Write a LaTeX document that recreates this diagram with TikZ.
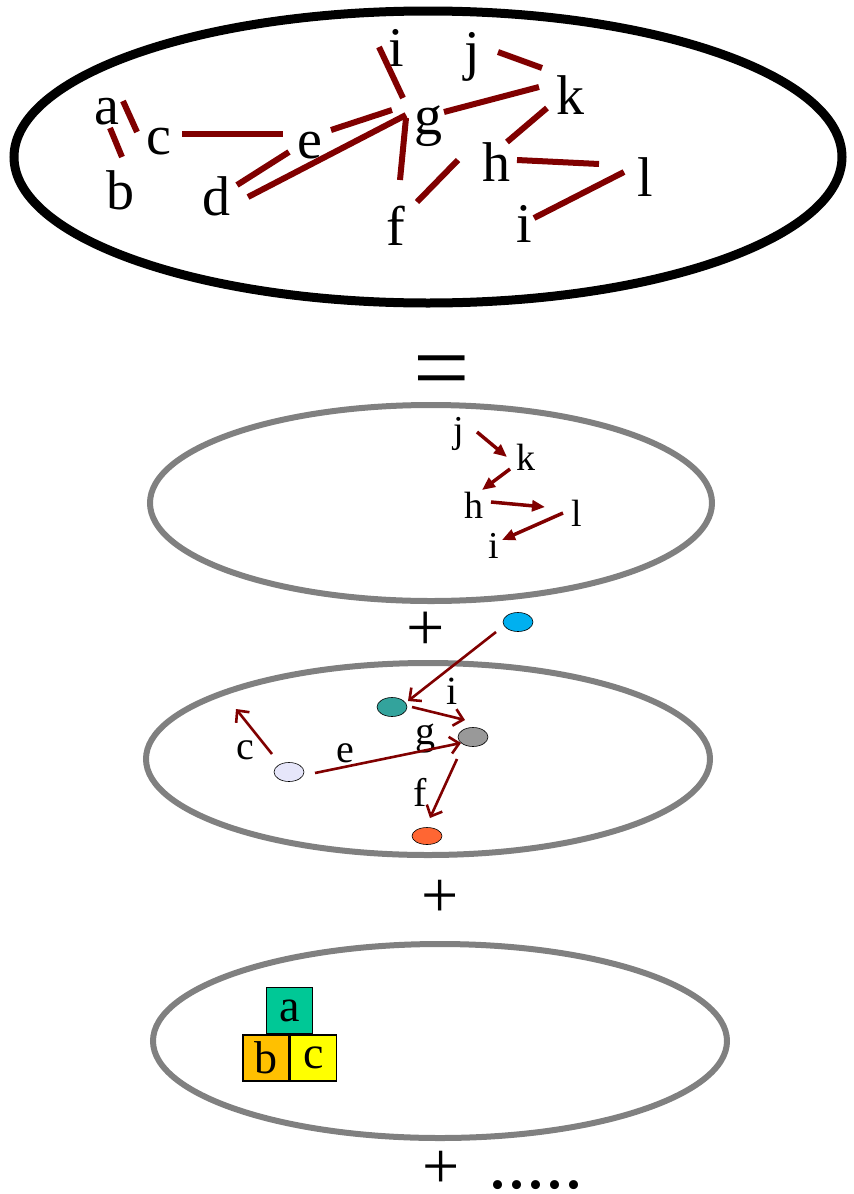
\documentclass[tikz,border=0pt]{standalone}
\usepackage{fontspec}
\setmainfont{Liberation Serif}
\usetikzlibrary{arrows.meta,positioning,calc,shapes.geometric}
\definecolor{linkred}{HTML}{800000}
\definecolor{ringgray}{HTML}{808080}
\definecolor{dotblue}{HTML}{00B0F0}
\definecolor{dotteal}{HTML}{33A39C}
\definecolor{dotgray}{HTML}{999999}
\definecolor{dotlav}{HTML}{E6E6FA}
\definecolor{dotorange}{HTML}{FF6633}
\definecolor{blkgreen}{HTML}{00C896}
\definecolor{blkamber}{HTML}{FFC000}
\definecolor{blkyellow}{HTML}{FFFF00}
\tikzset{
  biglbl/.style={inner sep=0pt,font=\fontsize{56}{60}\selectfont},
  midlbl/.style={inner sep=0pt,font=\fontsize{38}{40}\selectfont},
  smllbl/.style={inner sep=0pt,font=\fontsize{40}{42}\selectfont},
  link/.style={draw=linkred,line width=6pt},
  flow/.style={draw=linkred,line width=3.5pt,-{Triangle[length=13pt,width=11pt]}},
  hop/.style={draw=linkred,line width=2.6pt,-{Straight Barb[length=9pt,width=17pt]}},
  blob/.style={ellipse,draw=black,line width=0.6pt,minimum width=30pt,minimum height=19pt,inner sep=0pt},
  blk/.style={draw=black,line width=1.4pt,minimum size=46pt,inner sep=0pt,font=\fontsize{46}{48}\selectfont},
  ring/.style={draw=ringgray,line width=6pt}
}
\begin{document}
\begin{tikzpicture}[x=1pt,y=-1pt]
  \path[use as bounding box] (0,0) rectangle (854,1194);

  % whole structure
  \draw[line width=9pt] (428,157) ellipse [x radius=414, y radius=146];
  \node[biglbl] (a) at (107,112) {a};
  \node[biglbl] (b) at (120,190) {b};
  \node[biglbl] (c) at (159,142) {c};
  \node[biglbl] (d) at (216,196) {d};
  \node[biglbl] (e) at (310,146) {e};
  \node[biglbl] (g) at (428,126) {g};
  \node[biglbl] (i1) at (396,48) {i};
  \node[biglbl] (j) at (472,57) {j};
  \node[biglbl] (k) at (570,95) {k};
  \node[biglbl] (h) at (496,162) {h};
  \node[biglbl] (l) at (645,177) {l};
  \node[biglbl] (f) at (396,226) {f};
  \node[biglbl] (i2) at (524,224) {i};
  \draw[link] ($(a)+(16,-11)$) -- ($(c)+(-22,-10)$);
  \draw[link] ($(a)+(3,16)$) -- ($(b)+(2,-33)$);
  \draw[link] ($(c)+(23,-8)$) -- ($(e)+(-27,-12)$);
  \draw[link] ($(e)+(21,-16)$) -- ($(g)+(-36,-16)$);
  \draw[link] ($(d)+(21,-11)$) -- ($(e)+(-21,6)$);
  \draw[link] ($(d)+(32,1)$) -- ($(g)+(-22,-11)$);
  \draw[link] ($(i1)+(-17,-1)$) -- ($(g)+(-25,-28)$);
  \draw[link] ($(g)+(-22,-8)$) -- ($(f)+(4,-46)$);
  \draw[link] ($(g)+(16,-14)$) -- ($(k)+(-31,-8)$);
  \draw[link] ($(j)+(26,-5)$) -- ($(k)+(-28,-27)$);
  \draw[link] ($(k)+(-23,13)$) -- ($(h)+(11,-20)$);
  \draw[link] ($(f)+(21,-24)$) -- ($(h)+(-38,-2)$);
  \draw[link] ($(h)+(21,-2)$) -- ($(l)+(-46,-13)$);
  \draw[link] ($(l)+(-21,-5)$) -- ($(i2)+(10,-6)$);

  \node[inner sep=0pt,font=\fontsize{100}{100}\selectfont] (eq) at (442,379) {=};

  % first part
  \draw[ring] (431,503) ellipse [x radius=281, y radius=98];
  \node[midlbl] (j2) at (459,434) {j};
  \node[midlbl] (k2) at (526,457) {k};
  \node[midlbl] (h2) at (474,505) {h};
  \node[midlbl] (l2) at (577,513) {l};
  \node[midlbl] (i3) at (494,546) {i};
  \draw[flow] ($(j2)+(18,-2)$) -- ($(k2)+(-19,0)$);
  \draw[flow] ($(k2)+(-16,12)$) -- ($(h2)+(8,-15)$);
  \draw[flow] ($(h2)+(17,-3)$) -- ($(l2)+(-32,-6)$);
  \draw[flow] ($(l2)+(-14,0)$) -- ($(i3)+(8,-6)$);

  \node[inner sep=0pt,font=\fontsize{68}{68}\selectfont] (plus1) at (426,631) {+};

  % second part
  \draw[ring] (428,759) ellipse [x radius=282, y radius=96];
  \node[blob,fill=dotblue] (pb) at (518,622) {};
  \node[blob,fill=dotteal] (pt) at (392,707) {};
  \node[blob,fill=dotgray] (pg) at (473,737) {};
  \node[blob,fill=dotlav] (pl) at (289,772) {};
  \node[blob,fill=dotorange,minimum height=17pt] (po) at (427,836) {};
  \coordinate (cend) at (236,709);
  \node[smllbl] (li) at (452,691) {i};
  \node[smllbl] (lg) at (425,739) {g};
  \node[smllbl] (le) at (345,753) {e};
  \node[smllbl] (lc) at (245,750) {c};
  \node[smllbl] (lf) at (420,792) {f};
  \draw[hop] ($(pb)+(-22,10)$) -- ($(pt)+(16,-6)$);
  \draw[hop] ($(pt)+(20,0)$) -- ($(pg)+(-8,-17)$);
  \draw[hop] ($(pl)+(26,1)$) -- ($(pg)+(-12,6)$);
  \draw[hop] ($(pl)+(-17,-18)$) -- (cend);
  \draw[hop] ($(pg)+(-16,22)$) -- ($(po)+(3,-18)$);

  \node[inner sep=0pt,font=\fontsize{66}{66}\selectfont] (plus2) at (440,899) {+};

  % third part
  \draw[ring] (440,1041) ellipse [x radius=287, y radius=97];
  \node[blk,fill=blkamber] (bb) at (266,1058) {b};
  \node[blk,fill=blkyellow,right=0pt of bb] (bc) {c};
  \node[blk,fill=blkgreen,anchor=south] (ba) at (bb.north east) {a};

  \node[inner sep=0pt,anchor=base west,font=\fontsize{66}{66}\selectfont] (more)
    at (422,1188) {+\hspace{29pt}{\fontsize{76}{76}\selectfont .....}};
\end{tikzpicture}
\end{document}
